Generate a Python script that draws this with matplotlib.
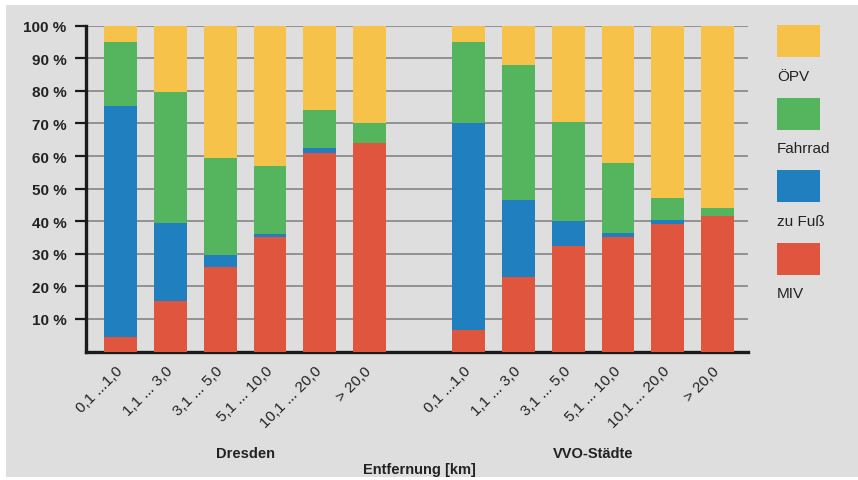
import matplotlib.pyplot as plt
from matplotlib.patches import Rectangle
import numpy as np

plt.rcParams['font.family'] = ['Liberation Sans', 'DejaVu Sans']

# Distance classes and groups
distances = ["0,1 ...1,0", "1,1 ... 3,0", "3,1 ... 5,0",
             "5,1 ... 10,0", "10,1 ... 20,0", "> 20,0"]
groups = ["Dresden", "VVO-Städte"]

# Modal split shares in percent (bottom to top: MIV, zu Fuß, Fahrrad, ÖPV)
dresden_miv = [4.5, 15.5, 26.0, 35.0, 61.0, 64.0]
dresden_fuss = [71.0, 24.0, 3.5, 1.0, 1.5, 0.0]
dresden_rad = [19.5, 40.0, 30.0, 21.0, 11.5, 6.0]
dresden_oepv = [5.0, 20.5, 40.5, 43.0, 26.0, 30.0]

vvo_miv = [6.5, 23.0, 32.5, 35.0, 39.0, 41.5]
vvo_fuss = [63.5, 23.5, 7.5, 1.5, 1.5, 0.0]
vvo_rad = [25.0, 41.5, 30.5, 21.5, 6.5, 2.5]
vvo_oepv = [5.0, 12.0, 29.5, 42.0, 53.0, 56.0]

modes = ["ÖPV", "Fahrrad", "zu Fuß", "MIV"]
colors = {"MIV": "#E0553E", "zu Fuß": "#1F7FBF",
          "Fahrrad": "#55B55E", "ÖPV": "#F7C24A"}

bg = "#DEDEDE"
ink = "#222222"
fig = plt.figure(figsize=(8.58, 4.81), dpi=100)
fig.patch.set_facecolor("white")
fig.add_artist(Rectangle((6 / 858, 3 / 481), 852 / 858, 472 / 481,
                         transform=fig.transFigure, facecolor=bg,
                         edgecolor="none", zorder=-10))

ax = fig.add_axes([86 / 858, (481 - 352.5) / 481,
                   (748.3 - 86) / 858, (352.5 - 26.7) / 481])
ax.set_facecolor(bg)

x_d = np.arange(len(distances))
x_v = np.arange(len(distances)) + len(distances) + 1
width = 0.66

for xs, miv, fuss, rad, oepv in [(x_d, dresden_miv, dresden_fuss, dresden_rad, dresden_oepv),
                                 (x_v, vvo_miv, vvo_fuss, vvo_rad, vvo_oepv)]:
    bottom = np.zeros(len(xs))
    for name, vals in [("MIV", miv), ("zu Fuß", fuss), ("Fahrrad", rad), ("ÖPV", oepv)]:
        vals = np.array(vals)
        ax.bar(xs, vals, width, bottom=bottom, color=colors[name],
               edgecolor="none", zorder=3)
        bottom += vals

ax.set_xlim(-0.70, 12.62)
ax.set_ylim(0, 100)

ax.set_yticks(np.arange(10, 101, 10))
ax.set_yticklabels([f"{v} %" for v in range(10, 101, 10)],
                   fontsize=11, fontweight="bold", color=ink)
ax.yaxis.grid(True, color="#8C8C8C", linewidth=1.3, zorder=0)
ax.set_axisbelow(True)
ax.tick_params(axis="y", direction="out", length=8, width=1.6,
               color="#1a1a1a", pad=6)

ax.set_xticks(np.concatenate([x_d, x_v]))
ax.set_xticklabels(distances + distances, rotation=45, ha="right",
                   va="center", rotation_mode="anchor", fontsize=11,
                   color=ink)
ax.tick_params(axis="x", length=0, pad=12)

for side in ["top", "right"]:
    ax.spines[side].set_visible(False)
for side in ["left", "bottom"]:
    ax.spines[side].set_linewidth(2.4)
    ax.spines[side].set_color("#1a1a1a")

# Group captions and axis title
for xpos, label in [(x_d.mean(), groups[0]), (x_v.mean(), groups[1])]:
    px = ax.transData.transform((xpos, 0))[0] / fig.bbox.width
    fig.text(px, 1 - 454 / 481, label, fontsize=10.5, fontweight="bold",
             ha="center", va="center", color=ink)
mid = ax.transData.transform((len(distances), 0))[0] / fig.bbox.width
fig.text(mid, 1 - 470 / 481, "Entfernung [km]", fontsize=10.5,
         fontweight="bold", ha="center", va="center", color=ink)

# Legend: colour blocks with captions underneath
for i, name in enumerate(modes):
    top = 26 + i * 72.5
    fig.add_artist(Rectangle((777 / 858, (481 - top - 32) / 481),
                             43 / 858, 32 / 481, transform=fig.transFigure,
                             facecolor=colors[name], edgecolor="none"))
    fig.text(777 / 858, 1 - (top + 51) / 481, name, fontsize=11,
             ha="left", va="center", color=ink)

fig.savefig("out.png", dpi=100, facecolor=fig.get_facecolor())
